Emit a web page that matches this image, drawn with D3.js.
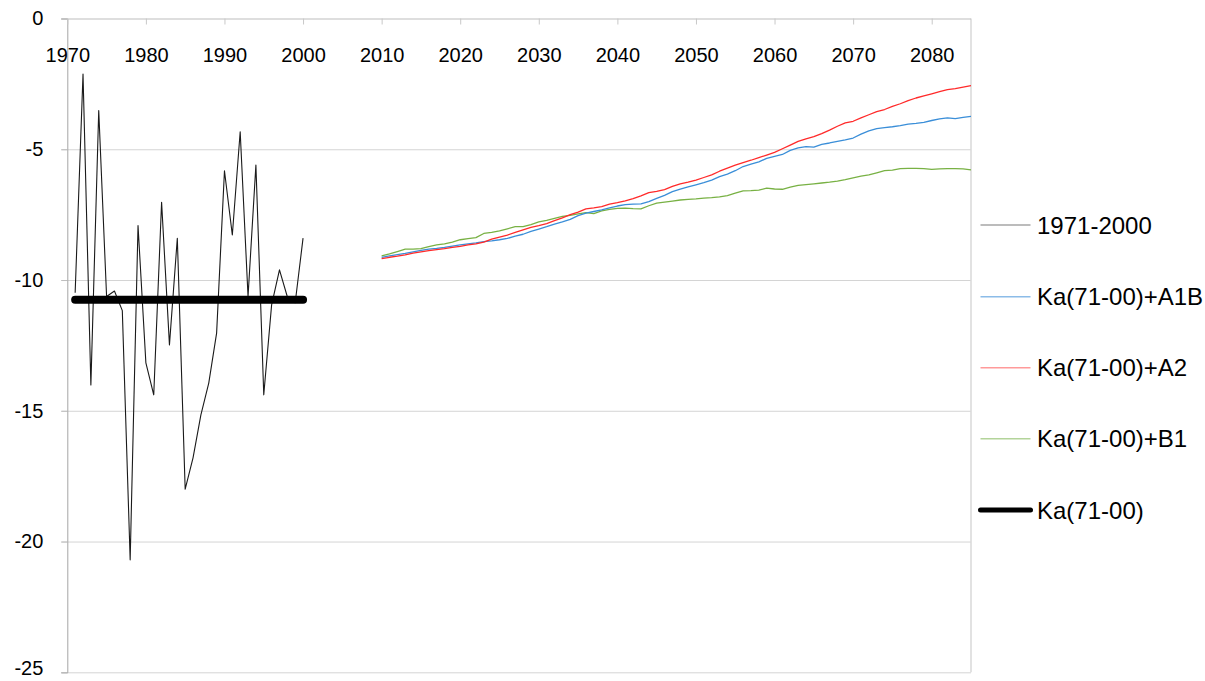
<!DOCTYPE html>
<html>
<head>
<meta charset="utf-8">
<script src="https://cdn.jsdelivr.net/npm/d3@7/dist/d3.min.js"></script>
<style>
  html, body { margin: 0; padding: 0; background: #fff; }
  svg { display: block; font-family: "Liberation Sans", Arial, sans-serif; }
</style>
</head>
<body>
<svg id="chart" width="1205" height="681"></svg>
<script>
// Observed series 1971-2000
const obsYears = d3.range(1971, 2001);
const obsValues = [
  -10.49, -2.12, -14.01, -3.52, -10.63, -10.42, -11.17, -20.70, -7.92, -13.17,
  -14.39, -7.03, -12.48, -8.40, -18.00, -16.80, -15.16, -13.94, -12.03, -5.82,
  -8.28, -4.33, -10.63, -5.60, -14.39, -10.95, -9.61, -10.64, -10.87, -8.40
];

// Baseline mean of the reference period
const baseYears = [1971, 2000];
const baseValues = [-10.75, -10.75];

// Scenario projections 2010-2085
const projYears = d3.range(2010, 2086);
const a1bValues = [
  -9.13, -9.08, -9.03, -8.98, -8.92, -8.87, -8.82, -8.79, -8.75, -8.70,
  -8.66, -8.62, -8.58, -8.53, -8.50, -8.46, -8.41, -8.32, -8.25, -8.14,
  -8.05, -7.96, -7.86, -7.78, -7.68, -7.54, -7.44, -7.38, -7.32, -7.24,
  -7.17, -7.12, -7.10, -7.09, -7.00, -6.88, -6.76, -6.62, -6.52, -6.44,
  -6.36, -6.28, -6.18, -6.05, -5.95, -5.82, -5.66, -5.57, -5.48, -5.35,
  -5.27, -5.20, -5.04, -4.95, -4.90, -4.92, -4.81, -4.76, -4.70, -4.64,
  -4.57, -4.42, -4.30, -4.21, -4.17, -4.14, -4.10, -4.04, -4.01, -3.97,
  -3.90, -3.84, -3.80, -3.83, -3.78, -3.74
];
const a2Values = [
  -9.18, -9.13, -9.09, -9.04, -8.97, -8.92, -8.88, -8.84, -8.80, -8.75,
  -8.71, -8.66, -8.62, -8.55, -8.44, -8.36, -8.28, -8.18, -8.08, -7.99,
  -7.92, -7.84, -7.73, -7.62, -7.50, -7.40, -7.28, -7.24, -7.19, -7.10,
  -7.04, -6.97, -6.89, -6.78, -6.66, -6.61, -6.54, -6.42, -6.32, -6.26,
  -6.18, -6.08, -5.98, -5.84, -5.72, -5.61, -5.51, -5.42, -5.32, -5.22,
  -5.12, -4.98, -4.84, -4.70, -4.60, -4.52, -4.40, -4.27, -4.12, -3.99,
  -3.93, -3.80, -3.68, -3.56, -3.48, -3.36, -3.26, -3.14, -3.04, -2.96,
  -2.88, -2.80, -2.72, -2.68, -2.62, -2.57
];
const b1Values = [
  -9.08, -9.00, -8.91, -8.82, -8.82, -8.80, -8.72, -8.66, -8.62, -8.55,
  -8.46, -8.42, -8.38, -8.22, -8.18, -8.12, -8.04, -7.96, -7.96, -7.88,
  -7.78, -7.72, -7.64, -7.57, -7.53, -7.47, -7.42, -7.46, -7.36, -7.30,
  -7.26, -7.25, -7.27, -7.28, -7.16, -7.06, -7.02, -6.98, -6.94, -6.92,
  -6.90, -6.87, -6.85, -6.82, -6.77, -6.68, -6.59, -6.58, -6.56, -6.49,
  -6.52, -6.53, -6.45, -6.38, -6.35, -6.32, -6.29, -6.26, -6.22, -6.16,
  -6.09, -6.03, -5.98, -5.90, -5.82, -5.80, -5.74, -5.73, -5.73, -5.74,
  -5.77, -5.75, -5.74, -5.74, -5.75, -5.79
];

const xTickValues = [1970, 1980, 1990, 2000, 2010, 2020, 2030, 2040, 2050, 2060, 2070, 2080];
const yTickValues = [0, -5, -10, -15, -20, -25];

const legendLabels = ["1971-2000", "Ka(71-00)+A1B", "Ka(71-00)+A2", "Ka(71-00)+B1", "Ka(71-00)"];

const colors = { obs: "#1a1a1a", a1b: "#3a8ed8", a2: "#ff2a2a", b1: "#78b144", base: "#000000" };

const svg = d3.select("#chart");
const plot = { left: 67.3, right: 971, top: 18.5, bottom: 672.3 };

const x = d3.scaleLinear().domain([1970, 2085]).range([plot.left, plot.right]);
const y = d3.scaleLinear().domain([-25, 0]).range([plot.bottom, plot.top]);

// Plain hyphen-minus for tick labels
const plainNumber = d => String(d);

// Horizontal gridlines with short outer ticks
const grid = svg.append("g")
  .attr("transform", `translate(${plot.left},0)`)
  .call(d3.axisLeft(y).tickValues(yTickValues.filter(v => v !== 0))
    .tickSize(-(plot.right - plot.left)).tickFormat(""));
grid.select(".domain").remove();
grid.selectAll("line").attr("stroke", "#d4d4d4").attr("x1", -6);

// Right border of the plot area
svg.append("line")
  .attr("x1", plot.right).attr("x2", plot.right)
  .attr("y1", plot.top).attr("y2", plot.bottom)
  .attr("stroke", "#d9d9d9").attr("stroke-width", 1.5);

// Y axis
const yAxis = svg.append("g")
  .attr("transform", `translate(${plot.left},0)`)
  .call(d3.axisLeft(y).tickValues(yTickValues).tickSize(6).tickPadding(18)
    .tickFormat(plainNumber));
yAxis.select(".domain").attr("stroke", "#a6a6a6");
yAxis.selectAll(".tick line").attr("stroke", "#bdbdbd");
yAxis.selectAll("text").attr("font-size", 20).attr("fill", "#000")
  .attr("font-family", "Liberation Sans, Arial, sans-serif");
// keep the lowest label inside the frame
yAxis.selectAll(".tick").filter(d => d === -25).select("text").attr("dy", "0.12em");

// X axis crossing at zero, labels beneath the line
const xAxis = svg.append("g")
  .attr("transform", `translate(0,${y(0)})`)
  .call(d3.axisBottom(x).tickValues(xTickValues).tickSize(6).tickPadding(23)
    .tickFormat(plainNumber).tickSizeOuter(0));
xAxis.select(".domain").attr("stroke", "#bdbdbd").attr("d", `M${plot.left - 6},0.5H${plot.right}`);
xAxis.selectAll(".tick line").attr("stroke", "#c8c8c8");
xAxis.selectAll("text").attr("font-size", 20).attr("fill", "#000")
  .attr("font-family", "Liberation Sans, Arial, sans-serif");

const line = d3.line().x(d => x(d[0])).y(d => y(d[1]));

function drawSeries(years, values, color, width, cap) {
  svg.append("path")
    .datum(years.map((yr, i) => [yr, values[i]]))
    .attr("fill", "none")
    .attr("stroke", color)
    .attr("stroke-width", width)
    .attr("stroke-linejoin", "round")
    .attr("stroke-linecap", cap || "butt")
    .attr("d", line);
}

drawSeries(obsYears, obsValues, colors.obs, 1.1);
drawSeries(projYears, b1Values, colors.b1, 1.3);
drawSeries(projYears, a1bValues, colors.a1b, 1.3);
drawSeries(projYears, a2Values, colors.a2, 1.3);
drawSeries(baseYears, baseValues, colors.base, 8, "round");

// Legend
const legendY = [225, 296.7, 367.7, 438.7, 510];
const legendStyle = [
  { color: "#7a7a7a", width: 1.2, cap: "butt" },
  { color: "#8cbce8", width: 1.5, cap: "butt" },
  { color: "#ff9a9a", width: 1.5, cap: "butt" },
  { color: "#b3d49a", width: 1.5, cap: "butt" },
  { color: "#000000", width: 5, cap: "round" }
];
const legend = svg.append("g");
legendLabels.forEach((label, i) => {
  const g = legend.append("g").attr("transform", `translate(0,${legendY[i]})`);
  g.append("line")
    .attr("x1", 980.5).attr("x2", 1030.5)
    .attr("stroke", legendStyle[i].color)
    .attr("stroke-width", legendStyle[i].width)
    .attr("stroke-linecap", legendStyle[i].cap);
  g.append("text")
    .attr("x", 1037).attr("dy", "0.36em")
    .attr("font-size", 24).attr("fill", "#000")
    .text(label);
});
</script>
</body>
</html>
